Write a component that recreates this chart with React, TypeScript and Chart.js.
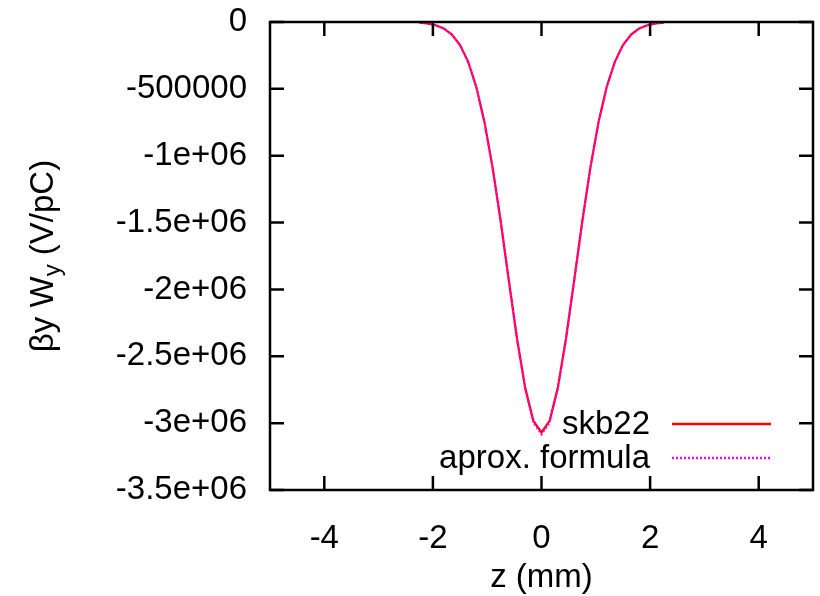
import React, { useEffect, useRef } from "react";
import { Chart, registerables } from "chart.js";

Chart.register(...registerables);

// ---- data ----
const zValues = [
  -2.25, -2.1, -1.95, -1.8, -1.65, -1.5, -1.35, -1.2, -1.05, -0.9, -0.75, -0.6, -0.45, -0.3, -0.15,
  0,
  0.15, 0.3, 0.45, 0.6, 0.75, 0.9, 1.05, 1.2, 1.35, 1.5, 1.65, 1.8, 1.95, 2.1, 2.25,
];
const skb22 = [
  -5000, -11000, -24000, -48000, -94000, -172000, -298000, -486000, -749000, -1089000, -1494000,
  -1937000, -2369000, -2736000, -2983000,
  -3070000,
  -2983000, -2736000, -2369000, -1937000, -1494000, -1089000, -749000, -486000, -298000, -172000,
  -94000, -48000, -24000, -11000, -5000,
];
const aproxFormula = [
  -5000, -11000, -24000, -48000, -95000, -173000, -300000, -489000, -753000, -1094000, -1500000,
  -1944000, -2378000, -2747000, -2996000,
  -3085000,
  -2996000, -2747000, -2378000, -1944000, -1500000, -1094000, -753000, -489000, -300000, -173000,
  -95000, -48000, -24000, -11000, -5000,
];
const seriesLabels = ["skb22", "aprox. formula"];
const seriesColors = ["#ff0000", "#ff00ff"];

const xMin = -5;
const xMax = 5;
const xTickValues = [-4, -2, 0, 2, 4];
const xTickLabels = ["-4", "-2", "0", "2", "4"];
const yMin = -3500000;
const yMax = 0;
const yTickValues = [0, -500000, -1000000, -1500000, -2000000, -2500000, -3000000, -3500000];
const yTickLabels = ["0", "-500000", "-1e+06", "-1.5e+06", "-2e+06", "-2.5e+06", "-3e+06", "-3.5e+06"];
const xTitle = "z (mm)";
const yTitleMain = "\u03B2y W";
const yTitleSub = "y";
const yTitleRest = " (V/pC)";

const FONT = "'Liberation Sans', Arial, Helvetica, sans-serif";
const FONT_SIZE = 33;

export default function App() {
  const canvasRef = useRef<HTMLCanvasElement>(null);

  useEffect(() => {
    const canvas = canvasRef.current;
    if (!canvas) return;

    const framePlugin = {
      id: "gnuplotFrame",
      afterDraw(chart: any) {
        const { ctx, chartArea: a, scales } = chart;
        ctx.save();
        // border
        ctx.strokeStyle = "#000";
        ctx.lineWidth = 2.5;
        ctx.strokeRect(a.left, a.top, a.right - a.left, a.bottom - a.top);
        // inward ticks on all four sides
        const tl = 14;
        ctx.beginPath();
        for (const v of xTickValues) {
          const x = scales.x.getPixelForValue(v);
          ctx.moveTo(x, a.bottom);
          ctx.lineTo(x, a.bottom - tl);
          ctx.moveTo(x, a.top);
          ctx.lineTo(x, a.top + tl);
        }
        for (const v of yTickValues) {
          const y = scales.y.getPixelForValue(v);
          ctx.moveTo(a.left, y);
          ctx.lineTo(a.left + tl, y);
          ctx.moveTo(a.right, y);
          ctx.lineTo(a.right - tl, y);
        }
        ctx.stroke();

        // x title
        ctx.fillStyle = "#000";
        ctx.font = `${FONT_SIZE}px ${FONT}`;
        ctx.textAlign = "center";
        ctx.textBaseline = "middle";
        ctx.fillText(xTitle, (a.left + a.right) / 2, a.bottom + 88);

        // y title (rotated, with subscript)
        const subSize = Math.round(FONT_SIZE * 0.72);
        ctx.textAlign = "left";
        ctx.textBaseline = "alphabetic";
        ctx.font = `${FONT_SIZE}px ${FONT}`;
        const w1 = ctx.measureText(yTitleMain).width;
        const w3 = ctx.measureText(yTitleRest).width;
        ctx.font = `${subSize}px ${FONT}`;
        const w2 = ctx.measureText(yTitleSub).width;
        const total = w1 + w2 + w3;
        ctx.save();
        ctx.translate(53, (a.top + a.bottom) / 2);
        ctx.rotate(-Math.PI / 2);
        let cx = -total / 2;
        ctx.font = `${FONT_SIZE}px ${FONT}`;
        ctx.fillText(yTitleMain, cx, 0);
        cx += w1;
        ctx.font = `${subSize}px ${FONT}`;
        ctx.fillText(yTitleSub, cx, 7);
        cx += w2;
        ctx.font = `${FONT_SIZE}px ${FONT}`;
        ctx.fillText(yTitleRest, cx, 0);
        ctx.restore();

        // legend (gnuplot style: right-aligned text, then sample line)
        const rowYs = [a.bottom - 66, a.bottom - 32];
        ctx.font = `${FONT_SIZE}px ${FONT}`;
        ctx.textAlign = "right";
        ctx.textBaseline = "middle";
        chart.data.datasets.forEach((ds: any, i: number) => {
          const y = rowYs[i];
          ctx.fillStyle = "#000";
          ctx.fillText(ds.label, a.right - 163, y + 1);
          ctx.strokeStyle = ds.borderColor;
          ctx.lineWidth = 2.5;
          ctx.setLineDash(ds.borderDash || []);
          ctx.beginPath();
          ctx.moveTo(a.right - 141, y);
          ctx.lineTo(a.right - 42, y);
          ctx.stroke();
          ctx.setLineDash([]);
        });
        ctx.restore();
      },
    };

    const chart = new Chart(canvas, {
      type: "line",
      data: {
        datasets: [
          {
            label: seriesLabels[0],
            data: zValues.map((z, i) => ({ x: z, y: skb22[i] })),
            borderColor: seriesColors[0],
            backgroundColor: seriesColors[0],
            borderWidth: 2.2,
            pointRadius: 0,
            tension: 0,
            fill: false,
            order: 2,
          },
          {
            label: seriesLabels[1],
            data: zValues.map((z, i) => ({ x: z, y: aproxFormula[i] })),
            borderColor: seriesColors[1],
            backgroundColor: seriesColors[1],
            borderWidth: 2,
            borderDash: [2, 2],
            pointRadius: 0,
            tension: 0,
            fill: false,
            order: 1,
          },
        ],
      },
      options: {
        responsive: false,
        animation: false,
        layout: { padding: { top: 22, right: 7, left: 0, bottom: 0 } },
        plugins: {
          legend: { display: false },
          tooltip: { enabled: false },
        },
        scales: {
          x: {
            type: "linear",
            min: xMin,
            max: xMax,
            grid: { display: false, drawTicks: false },
            border: { display: false },
            afterBuildTicks: (s: any) => {
              s.ticks = xTickValues.map((v) => ({ value: v }));
            },
            afterFit: (s: any) => {
              s.height = 106;
              s.paddingLeft = 0;
              s.paddingRight = 0;
            },
            ticks: {
              padding: 29,
              color: "#000",
              maxRotation: 0,
              autoSkip: false,
              font: { family: FONT, size: FONT_SIZE },
              callback: (_v: any, i: number) => xTickLabels[i],
            },
          },
          y: {
            type: "linear",
            min: yMin,
            max: yMax,
            grid: { display: false, drawTicks: false },
            border: { display: false },
            afterBuildTicks: (s: any) => {
              s.ticks = yTickValues.map((v) => ({ value: v }));
            },
            afterFit: (s: any) => {
              s.width = 270;
              s.paddingTop = 0;
              s.paddingBottom = 0;
            },
            ticks: {
              padding: 23,
              color: "#000",
              autoSkip: false,
              font: { family: FONT, size: FONT_SIZE },
              callback: (_v: any, i: number) => yTickLabels[i],
            },
          },
        },
      },
      plugins: [framePlugin],
    } as any);

    return () => chart.destroy();
  }, []);

  return (
    <div style={{ position: "absolute", left: 0, top: 0, width: 820, height: 596, background: "#fff" }}>
      <canvas ref={canvasRef} width={820} height={596} style={{ display: "block" }} />
    </div>
  );
}
